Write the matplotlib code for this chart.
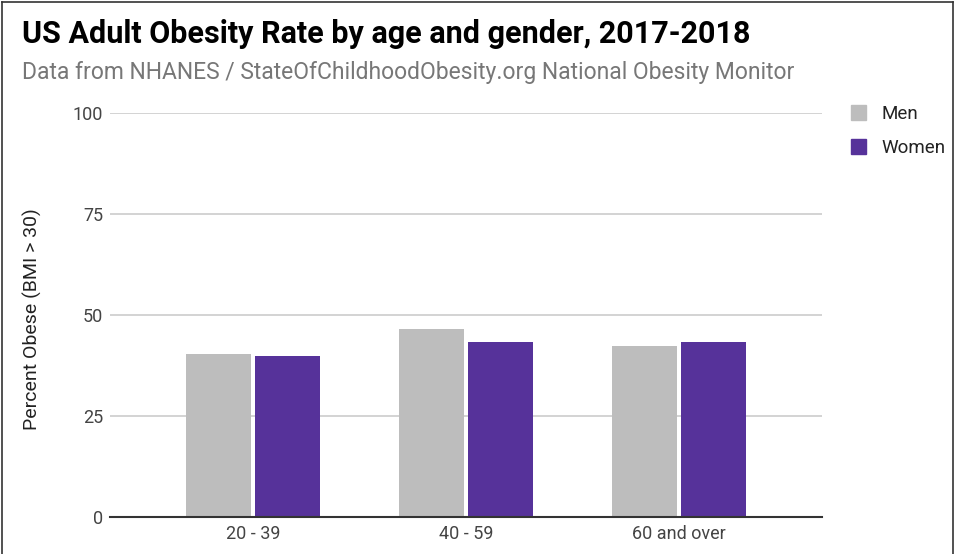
import numpy as np
from matplotlib import pyplot as plt
from matplotlib.lines import Line2D
from matplotlib.patches import Patch

# Data (NHANES 2017-2018, percent obese)
age_groups = ["20 - 39", "40 - 59", "60 and over"]
men = [40.3, 46.4, 42.2]
women = [39.7, 43.3, 43.3]
y_ticks = [0, 25, 50, 75, 100]

men_color = '#bdbdbd'
women_color = '#56329a'

plt.rcParams['font.family'] = ['Roboto', 'DejaVu Sans']

fig = plt.figure(figsize=(9.56, 5.54), dpi=100)
ax = fig.add_axes([110/956, 37/554, 712/956, 404.5/554])

x = np.arange(len(age_groups))
w = 0.306
off = 0.1625
ax.bar(x - off, men, w, color=men_color, label='Men', zorder=3)
ax.bar(x + off, women, w, color=women_color, label='Women', zorder=3)

ax.set_xlim(-0.673, 2.673)
ax.set_ylim(0, 100)
ax.set_yticks(y_ticks)
ax.set_xticks(x)
ax.set_xticklabels(age_groups)
ax.tick_params(axis='both', length=0, labelsize=13, labelcolor='#444444')
ax.tick_params(axis='y', pad=5)
ax.tick_params(axis='x', pad=6)
ax.grid(axis='y', color='#cccccc', linewidth=1.2, zorder=0)
for s in ['top', 'right', 'left']:
	ax.spines[s].set_visible(False)
ax.spines['bottom'].set_color('#333333')
ax.spines['bottom'].set_linewidth(1.5)
ax.spines['bottom'].set_zorder(4)
ax.set_ylabel('Percent Obese (BMI > 30)', fontsize=14, color='#222222')
ax.yaxis.set_label_coords(-68/712, 0.49)

fig.text(22/956, 1 - 43/554, 'US Adult Obesity Rate by age and gender, 2017-2018',
	fontsize=22, fontweight='bold', color='#000000')
fig.text(22/956, 1 - 79/554, 'Data from NHANES / StateOfChildhoodObesity.org National Obesity Monitor',
	fontsize=16.5, color='#777777')

handles = [Patch(color=men_color), Patch(color=women_color)]
fig.legend(handles, ['Men', 'Women'], loc='upper left', bbox_to_anchor=(851/956, 1 - 105/554),
	frameon=False, fontsize=13.5, labelcolor='#222222', handlelength=0.8, handleheight=0.8,
	handletextpad=0.85, labelspacing=0.85, borderpad=0, borderaxespad=0)

# border around the picture
for xs, ys in [([2/956, 2/956], [0, 1 - 2/554]), ([2/956, 953/956], [1 - 2/554, 1 - 2/554]),
		([953/956, 953/956], [0, 1 - 2/554])]:
	fig.add_artist(Line2D(xs, ys, color='#333333', linewidth=1.2))

fig.savefig('out.png', dpi=100)
